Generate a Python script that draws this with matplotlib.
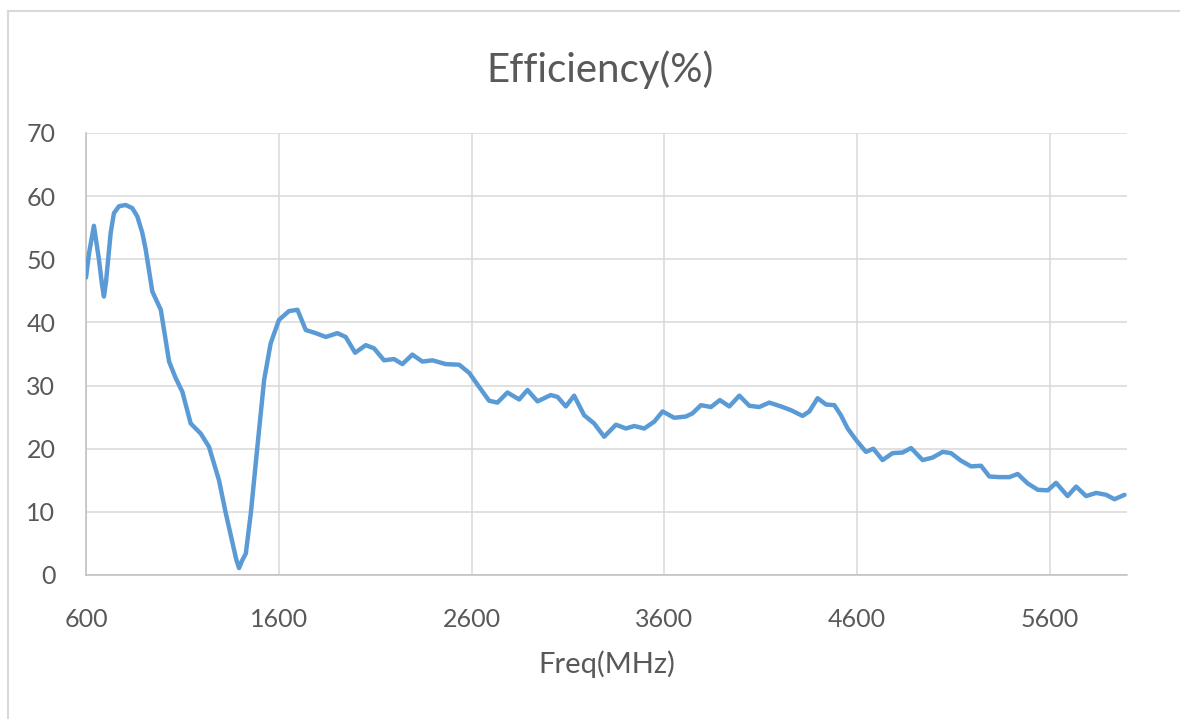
import matplotlib
matplotlib.use("Agg")
import matplotlib.pyplot as plt
from matplotlib.lines import Line2D

freq = [600, 616, 641, 667, 683, 693, 704, 728, 745, 771, 806, 840, 866, 892,
        910, 944, 988, 1031, 1065, 1100,
        1143, 1195, 1238, 1290, 1325, 1368, 1380, 1394, 1410, 1429, 1455, 1489,
        1524, 1558,
        1601, 1653, 1697, 1740, 1792, 1844, 1904, 1947, 1996, 2051, 2094, 2146,
        2198, 2241, 2293, 2345, 2397, 2466, 2536, 2588, 2639, 2691, 2734, 2786,
        2847, 2890, 2942, 3011, 3046, 3089, 3132, 3184, 3236, 3288, 3349, 3401,
        3444, 3496, 3548, 3591, 3651, 3712, 3746, 3790, 3842, 3888, 3937, 3989,
        4041, 4092, 4144, 4205, 4257, 4317, 4352, 4395, 4439, 4482, 4516, 4551,
        4594, 4646, 4684, 4732, 4784, 4836, 4880, 4940, 4992, 5044, 5087, 5139,
        5191, 5243, 5286, 5338, 5390, 5433, 5485, 5537, 5589, 5632, 5692, 5736,
        5788, 5840, 5892, 5935, 5987]
eff = [47.1, 51.0, 55.3, 50.0, 46.0, 44.1, 46.5, 54.2, 57.3, 58.4, 58.6, 58.1,
       56.8, 54.2, 51.5, 44.9, 42.0, 33.8,
       31.2, 29.0, 24.0, 22.4, 20.3, 15.0, 9.8, 4.0, 2.4, 1.1, 2.3, 3.4, 9.8,
       20.3, 30.9, 36.7,
       40.4, 41.8, 42.0, 38.8, 38.3, 37.7, 38.3, 37.7, 35.2, 36.4, 35.9,
       34.0, 34.2, 33.4, 34.9, 33.8, 34.0, 33.4, 33.3, 32.0, 29.8, 27.6, 27.3,
       28.9, 27.8, 29.3, 27.5, 28.5, 28.2, 26.7, 28.4, 25.3, 24.0, 21.9, 23.8,
       23.2, 23.6, 23.2, 24.3, 25.9, 24.9, 25.1, 25.6, 26.9, 26.6, 27.7, 26.7,
       28.4, 26.8, 26.6, 27.3, 26.7, 26.1, 25.2, 25.9, 28.0, 27.0, 26.9, 25.3,
       23.2, 21.4, 19.5, 20.0, 18.2, 19.3, 19.4, 20.1, 18.2, 18.6, 19.5, 19.3,
       18.1, 17.2, 17.3, 15.6, 15.5, 15.5, 16.0, 14.5, 13.5, 13.4, 14.6, 12.5,
       14.0, 12.5, 13.0, 12.7, 12.0, 12.7]

xticks = [600, 1600, 2600, 3600, 4600, 5600]
yticks = [0, 10, 20, 30, 40, 50, 60, 70]
title = "Efficiency(%)"
xlabel = "Freq(MHz)"

plt.rcParams['font.family'] = ['Lato', 'DejaVu Sans']
fig = plt.figure(figsize=(11.8, 7.19), dpi=100)
ax = fig.add_axes([86/1180, 1-575/719, (1127-86)/1180, (575-133)/719])

grid_c = '#d9d9d9'
txt_c = '#595959'
ax.plot(freq, eff, color='#5b9bd5', lw=3.2, solid_joinstyle='round',
        solid_capstyle='round', zorder=3)
ax.set_xlim(600, 6000)
ax.set_ylim(0, 70)
ax.set_xticks(xticks)
ax.set_yticks(yticks)
ax.grid(True, color=grid_c, lw=1.1)
ax.set_axisbelow(True)
for s in ['top', 'right']:
    ax.spines[s].set_visible(False)
for s in ['left', 'bottom']:
    ax.spines[s].set_color('#bfbfbf')
    ax.spines[s].set_linewidth(1.1)
ax.tick_params(length=0, labelsize=18, labelcolor=txt_c)
ax.tick_params(axis='y', pad=22)
ax.tick_params(axis='x', pad=24)
ax.set_xlabel(xlabel, fontsize=21, color=txt_c, labelpad=14)
fig.text(600/1180, 1-70/719, title, fontsize=29, color=txt_c, ha='center', va='center')

fig.add_artist(Line2D([8/1180, 8/1180], [0, 1-11/719], color=grid_c, lw=1.5, transform=fig.transFigure))
fig.add_artist(Line2D([8/1180, 1], [1-11/719, 1-11/719], color=grid_c, lw=1.5, transform=fig.transFigure))

fig.savefig("out.png", dpi=100)
